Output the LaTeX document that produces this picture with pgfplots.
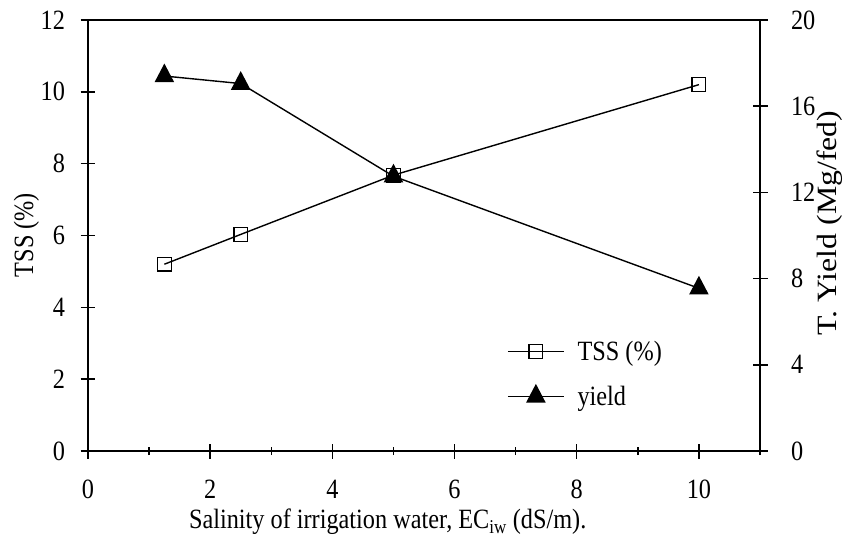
\documentclass[border=0pt]{standalone}
\usepackage{fontspec}
\setmainfont[FakeStretch=0.87]{Liberation Serif}
\newfontfamily\widefont[FakeStretch=1.14]{Liberation Serif}
\usepackage{pgfplots}
\pgfplotsset{compat=1.18}

\pgfplotstableread{
x tss
1.25 5.2
2.5 6.03
5 7.68
10 10.2
}\tsstable
\pgfplotstableread{
x yield
1.25 17.4
2.5 17.05
5 12.75
10 7.55
}\yieldtable

\begin{document}
\begin{tikzpicture}[font=\fontsize{28}{32}\selectfont]
\pgfplotsset{
  common/.style={
    scale only axis, width=672bp, height=431bp,
    xmin=0, xmax=11,
    axis line style={black, line width=1.8bp},
    tick align=center,
    major tick length=15bp, minor tick length=8bp,
    every tick/.style={black, line width=1.5bp},
    /pgf/number format/assume math mode=true,
    tick label style={font=\fontsize{28}{32}\selectfont},
    label style={font=\fontsize{28}{32}\selectfont},
  },
  tssstyle/.style={black, line width=1.4bp, mark=square, mark size=6.8bp, mark options={solid, line width=1.3bp, fill=white}},
  yieldstyle/.style={black, line width=1.4bp, mark=triangle*, mark size=10bp, mark options={solid, yscale=1.1}},
}
\begin{axis}[common,
  ymin=0, ymax=12,
  xtick={0,2,...,10}, minor xtick={1,3,...,11},
  ytick={0,2,...,12},
  xtick pos=bottom, ytick pos=left,
  xticklabel style={anchor=base, yshift=-40bp},
  yticklabel style={anchor=east, xshift=-12bp},
  xlabel={Salinity of irrigation water, EC\textsubscript{iw} (dS/m).},
  xlabel style={at={(axis description cs:0.446,-0.165)}, anchor=center},
  ylabel={TSS (\%)},
  ylabel style={at={(axis description cs:-0.0915,0.501)}, anchor=center},
]
\addplot[tssstyle] table[x=x, y=tss] {\tsstable};
\end{axis}
\begin{axis}[common,
  ymin=0, ymax=20,
  ytick={0,4,...,20},
  axis x line=none,
  axis y line*=right,
  yticklabel style={anchor=west, xshift=20bp},
  ylabel={\widefont T. Yield (Mg/fed)},
  ylabel style={at={(axis description cs:1.104,0.529)}, anchor=center},
  legend style={at={(axis description cs:0.6235,0.26)}, anchor=north west, draw=none, fill=none, inner sep=0pt, row sep=20bp, font=\fontsize{28}{32}\selectfont,
    /tikz/every odd column/.append style={column sep=11bp}},
  legend cell align=left,
  legend image code/.code={
    \draw[mark repeat=2, mark phase=2, #1] plot coordinates {(0bp,0bp) (28bp,0bp) (56bp,0bp)};
  },
]
\addlegendimage{tssstyle}
\addlegendentry{TSS (\%)}
\addplot[yieldstyle] table[x=x, y=yield] {\yieldtable};
\addlegendentry{yield}
\end{axis}
\pgfresetboundingbox
\path[use as bounding box] (-88bp,-89bp) rectangle (756bp,451bp);
\end{tikzpicture}
\end{document}
